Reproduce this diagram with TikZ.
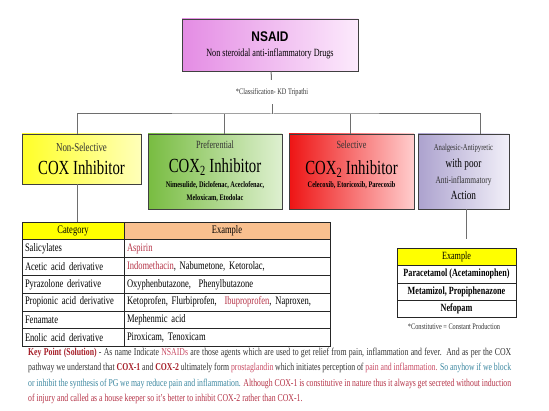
\documentclass[tikz,border=0pt]{standalone}
\usepackage{fontspec}
\setmainfont{Liberation Serif}[FakeStretch=0.74]
\newfontfamily\headsans{Liberation Sans}[FakeStretch=0.85]
\usetikzlibrary{positioning}

\definecolor{boxgray}{RGB}{64,64,64}
\definecolor{linkgray}{RGB}{110,110,110}
\definecolor{drugred}{RGB}{180,50,70}
\definecolor{keyred}{RGB}{165,30,40}
\definecolor{pinkred}{RGB}{200,75,100}
\definecolor{tealblue}{RGB}{60,135,160}
\definecolor{textgray}{RGB}{50,50,50}
\definecolor{peach}{RGB}{249,192,143}
\definecolor{brightyellow}{RGB}{255,255,0}

\tikzset{
  box/.style={draw=boxgray, line width=0.9pt, inner sep=0pt, align=center},
  link/.style={draw=linkgray, line width=1pt},
  cellL/.style={draw=black!85, line width=0.8pt, minimum height=17.8pt, text width=96pt, outer sep=0pt,
    inner xsep=3pt, inner ysep=0pt, align=left, font=\fontsize{11.5}{12}\selectfont},
  cellR/.style={cellL, text width=200pt},
  exbox/.style={draw=black!85, line width=0.8pt, minimum width=119pt, minimum height=17.3pt, outer sep=0pt,
    inner sep=0pt, font=\fontsize{11}{12}\selectfont\bfseries}
}

\begin{document}
\begin{tikzpicture}[x=1pt, y=-1pt]
  \useasboundingbox (0,0) rectangle (549,411);

  % top of the tree
  \node[box, left color={rgb,255:red,228;green,140;blue,228}, right color={rgb,255:red,252;green,234;blue,252},
        minimum width=176pt, minimum height=52pt] (nsaid) at (270,45)
        {\headsans\bfseries\fontsize{14}{16}\selectfont NSAID\\[3pt]
         \rmfamily\mdseries\fontsize{11}{12}\selectfont Non steroidal anti-inflammatory Drugs};
  \node[minimum height=24pt, inner sep=0pt, font=\fontsize{8.5}{10}\selectfont, text=textgray]
        (cls) at (272,92) {*Classification- KD Tripathi};
  \coordinate (bar) at (272,114);

  % the four classes
  \node[box, left color={rgb,255:red,255;green,255;blue,40}, right color={rgb,255:red,255;green,255;blue,185},
        minimum width=119pt, minimum height=50pt] (nonsel) at (81.5,159)
        {\fontsize{12}{13}\selectfont\color{textgray}Non-Selective\\[8pt]
         \fontsize{20}{20}\selectfont\color{black}COX Inhibitor};
  \node[box, left color={rgb,255:red,120;green,188;blue,65}, right color={rgb,255:red,222;green,240;blue,208},
        minimum width=134pt, minimum height=75pt] (pref) at (215,171.5)
        {\fontsize{11}{12}\selectfont\color{textgray}Preferential\\[9pt]
         \fontsize{20}{20}\selectfont\color{black}COX\textsubscript{2} Inhibitor\\[3pt]
         \fontsize{8.5}{10}\selectfont\bfseries Nimesulide, Diclofenac, Aceclofenac,\\[1pt]
         \fontsize{8.5}{10}\selectfont\bfseries Meloxicam, Etodolac};
  \node[box, left color={rgb,255:red,238;green,20;blue,20}, right color={rgb,255:red,255;green,205;blue,205},
        minimum width=125pt, minimum height=75pt] (sel) at (351.5,171.5)
        {\fontsize{11}{12}\selectfont\color{textgray}Selective\\[11pt]
         \fontsize{20}{20}\selectfont\color{black}COX\textsubscript{2} Inhibitor\\[1pt]
         \fontsize{8.5}{10}\selectfont\bfseries Celecoxib, Etoricoxib, Parecoxib\\[2pt]};
  \node[box, left color={rgb,255:red,172;green,162;blue,206}, right color={rgb,255:red,242;green,240;blue,249},
        minimum width=91pt, minimum height=75pt] (anal) at (463.5,171.5)
        {\fontsize{9}{10}\selectfont\color{textgray}Analgesic-Antipyretic\\[5pt]
         \fontsize{12.5}{13}\selectfont\color{black}with poor\\[4pt]
         \fontsize{10}{11}\selectfont\color{textgray}Anti-inflammatory\\[4pt]
         \fontsize{12.5}{13}\selectfont\color{black}Action};

  % non-selective table
  \node[cellL, fill=brightyellow, align=center] (cat0) at (73,230.9) {Category};
  \node[cellR, fill=peach, align=center] (ex0) [right = 0pt of cat0] {Example};
  \node[cellL] (cat1) [below = 0pt of cat0] {Salicylates};
  \node[cellR] (ex1) [right = 0pt of cat1] {\color{drugred}Aspirin};
  \node[cellL] (cat2) [below = 0pt of cat1] {Acetic acid derivative};
  \node[cellR] (ex2) [right = 0pt of cat2] {{\color{drugred}Indomethacin}, Nabumetone, Ketorolac,};
  \node[cellL] (cat3) [below = 0pt of cat2] {Pyrazolone derivative};
  \node[cellR] (ex3) [right = 0pt of cat3] {Oxyphenbutazone,\ \ Phenylbutazone};
  \node[cellL] (cat4) [below = 0pt of cat3] {Propionic acid derivative};
  \node[cellR] (ex4) [right = 0pt of cat4] {Ketoprofen, Flurbiprofen,\ \ {\color{drugred}Ibuproprofen}, Naproxen,};
  \node[cellL] (cat5) [below = 0pt of cat4] {Fenamate};
  \node[cellR] (ex5) [right = 0pt of cat5] {Mephenmic acid};
  \node[cellL] (cat6) [below = 0pt of cat5] {Enolic acid derivative};
  \node[cellR] (ex6) [right = 0pt of cat6] {Piroxicam, Tenoxicam};

  % analgesic table
  \node[exbox, fill=brightyellow, font=\fontsize{11}{12}\selectfont] (exhead) at (456.5,257) {Example};
  \node[exbox] (para) [below = 0pt of exhead] {Paracetamol (Acetaminophen)};
  \node[exbox] (meta) [below = 0pt of para] {Metamizol, Propiphenazone};
  \node[exbox] (nefo) [below = 0pt of meta] {Nefopam};
  \node[font=\fontsize{8.5}{10}\selectfont, text=textgray, inner sep=0pt]
        (const) at (454,327) {*Constitutive = Constant Production};

  % key point
  \node[anchor=north west, text width=483pt, align=justify, inner sep=0pt,
        font=\fontsize{10.5}{15.3}\selectfont, text=textgray] (key) at (28,348)
        {{\bfseries\color{keyred}Key Point (Solution)} - As name Indicate {\color{pinkred}NSAIDs} are those agents which are used to get relief from pain, inflammation and fever.\ \ And as per the COX\linebreak
         pathway we understand that {\bfseries\color{keyred}COX-1} and {\bfseries\color{keyred}COX-2} ultimately form {\color{pinkred}prostaglandin} which initiates perception of {\color{pinkred}pain and inflammation.} \textcolor{tealblue}{So anyhow if we block}\linebreak
         \textcolor{tealblue}{or inhibit the synthesis of PG we may reduce pain and inflammation.} \textcolor{drugred}{Although COX-1 is constitutive in nature thus it always get secreted without induction}\linebreak
         \textcolor{drugred}{of injury and called as a house keeper so it’s better to inhibit COX-2 rather than COX-1.}};

  % connectors
  \draw[link] (nsaid) -- (cls);
  \draw[link] (cls) -- (bar);
  \draw[link] ([xshift=-4.5pt]nonsel.north) |- (bar) -| ([xshift=16.5pt]anal.north);
  \draw[link] ([xshift=9pt]pref.north) -- ([xshift=9pt]pref.north |- bar);
  \draw[link] ([xshift=-1.5pt]sel.north) -- ([xshift=-1.5pt]sel.north |- bar);
  \draw[link] ([xshift=-4.5pt]nonsel.south) -- ([xshift=-4.5pt]nonsel.south |- cat0.north);
  \draw[link, shorten >=9pt] ([xshift=2.5pt]anal.south) -- ([xshift=2.5pt]anal.south |- exhead.north);
\end{tikzpicture}
\end{document}
